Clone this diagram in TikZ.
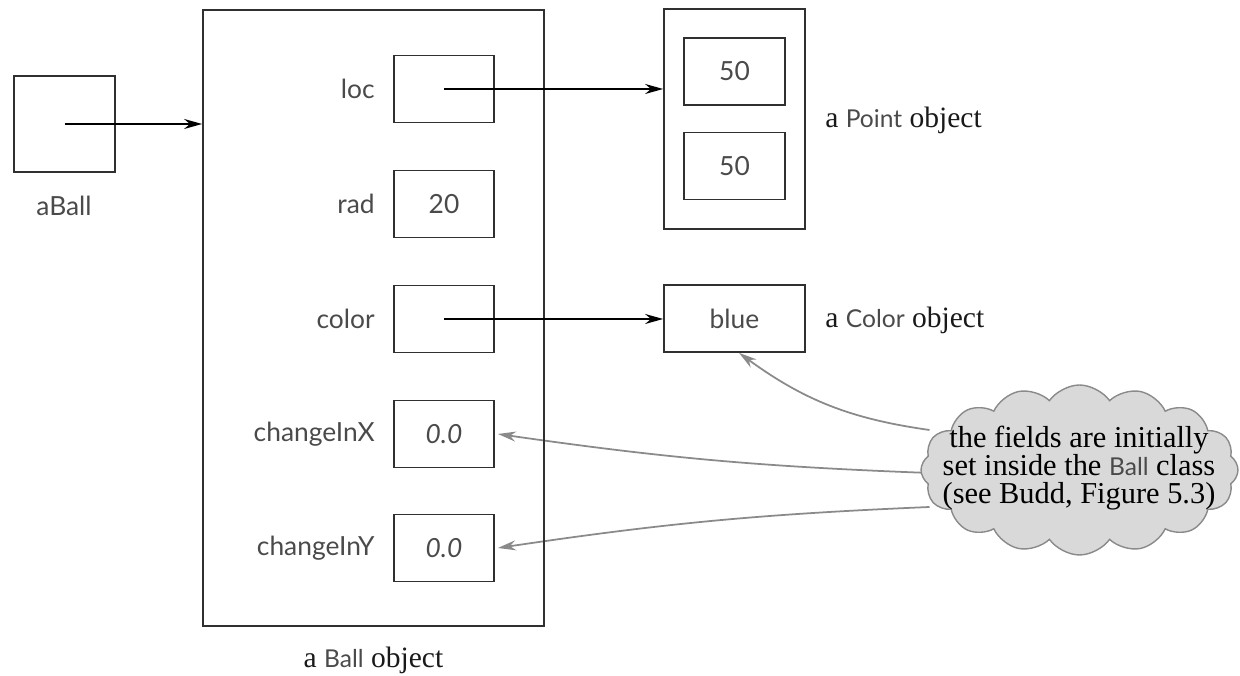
\documentclass[tikz,border=0pt]{standalone}
\usepackage{fontspec}
\setmainfont{Liberation Serif}
\newfontfamily\codefont{Lato}
\usepackage{tikz}
\usetikzlibrary{arrows.meta,shapes.symbols,backgrounds}

\definecolor{boxline}{HTML}{303030}
\definecolor{codegray}{HTML}{4A4A4A}
\definecolor{notefill}{HTML}{D9D9D9}
\definecolor{notegray}{HTML}{8A8A8A}

\newcommand{\code}[1]{{\codefont\fontsize{14}{16}\selectfont\color{codegray}#1}}

\tikzset{
  obj/.style={draw=boxline, line width=1pt, rectangle, inner sep=0pt},
  field/.style={obj, minimum width=2cm, minimum height=1.34cm, font=\codefont\fontsize{15}{17}\selectfont, text=codegray},
  fieldname/.style={anchor=east, inner sep=0pt, font=\codefont\fontsize{15}{17}\selectfont, text=codegray},
  caption/.style={inner sep=0pt, font=\fontsize{16.8}{18}\selectfont, text=black!90},
  ptr/.style={-{Stealth[length=3.6mm,width=2mm]}, line width=1pt, draw=black},
  hint/.style={-{Stealth[length=3.6mm,width=2mm]}, line width=1pt, draw=notegray},
}

\begin{document}
\begin{tikzpicture}
	\useasboundingbox (0,0) rectangle (24.8,13.52);

	% the variable
	\node[obj, minimum width=2.02cm, minimum height=1.92cm] (aball) at (1.29, 11.04) {};
	\node[fieldname, anchor=center] (aballname) at (1.28, 9.40) {aBall};

	% the Ball object and its fields
	\node[obj, minimum width=6.82cm, minimum height=12.32cm] (ball) at (7.47, 7.16) {};
	\node[caption, below=0.4cm] (balltext) at (ball.south) {a \code{Ball} object};

	\node[field] (loc)     at (8.88, 11.74) {};
	\node[field] (rad)     at (8.88, 9.44)  {20};
	\node[field] (color)   at (8.88, 7.14)  {};
	\node[field] (dx)      at (8.88, 4.84)  {\itshape 0.0};
	\node[field] (dy)      at (8.88, 2.56)  {\itshape 0.0};

	\node[fieldname] (locname)   at (7.5, 11.74) {loc};
	\node[fieldname] (radname)   at (7.5, 9.44)  {rad};
	\node[fieldname] (colorname) at (7.5, 7.14)  {color};
	\node[fieldname] (dxname)    at (7.5, 4.84)  {changeInX};
	\node[fieldname] (dyname)    at (7.5, 2.56)  {changeInY};

	% the Point object
	\node[obj, minimum width=2.82cm, minimum height=4.40cm] (point) at (14.69, 11.14) {};
	\node[field, minimum width=2.02cm] (px) at (14.69, 12.09) {50};
	\node[field, minimum width=2.02cm] (py) at (14.69, 10.20) {50};
	\node[caption, anchor=west] (pointtext) at (16.5, 11.12) {a \code{Point} object};

	% the Color object
	\node[field, minimum width=2.82cm] (blue) at (14.69, 7.15) {blue};
	\node[caption, anchor=west] (colortext) at (16.5, 7.12) {a \code{Color} object};

	% the note: an empty cloud with the text set on top of it
	\node[cloud, cloud puffs=16, cloud puff arc=110, cloud ignores aspect,
	      minimum width=6.34cm, minimum height=3.4cm, inner sep=0pt,
	      draw=notegray, fill=notefill, line width=0.8pt] (note) at (21.59, 4.12) {};
	\node[align=center, inner sep=0pt, font=\fontsize{17.3}{16}\selectfont] (notetext) at (21.58, 4.16)
	      {the fields are initially\\set inside the \code{Ball} class\\(see Budd, Figure 5.3)};

	\draw[ptr] (aball.center) -- (ball.west |- aball.center);
	\draw[ptr] (loc.center) -- (loc.center -| point.west);
	\draw[ptr] (color.center) -- (color.center -| blue.west);

	\begin{pgfonlayer}{background}
	\draw[hint] ([shift={(-3.0,0.8)}]note.center) to[bend left=14] ([xshift=0.9mm]blue.south);
	\draw[hint] ([shift={(-3.0,-0.06)}]note.center) to[bend left=3] ([xshift=0.06cm]dx.east);
	\draw[hint] ([shift={(-3.0,-0.74)}]note.center) to[bend right=3] ([xshift=0.06cm]dy.east);
	\end{pgfonlayer}
\end{tikzpicture}
\end{document}
